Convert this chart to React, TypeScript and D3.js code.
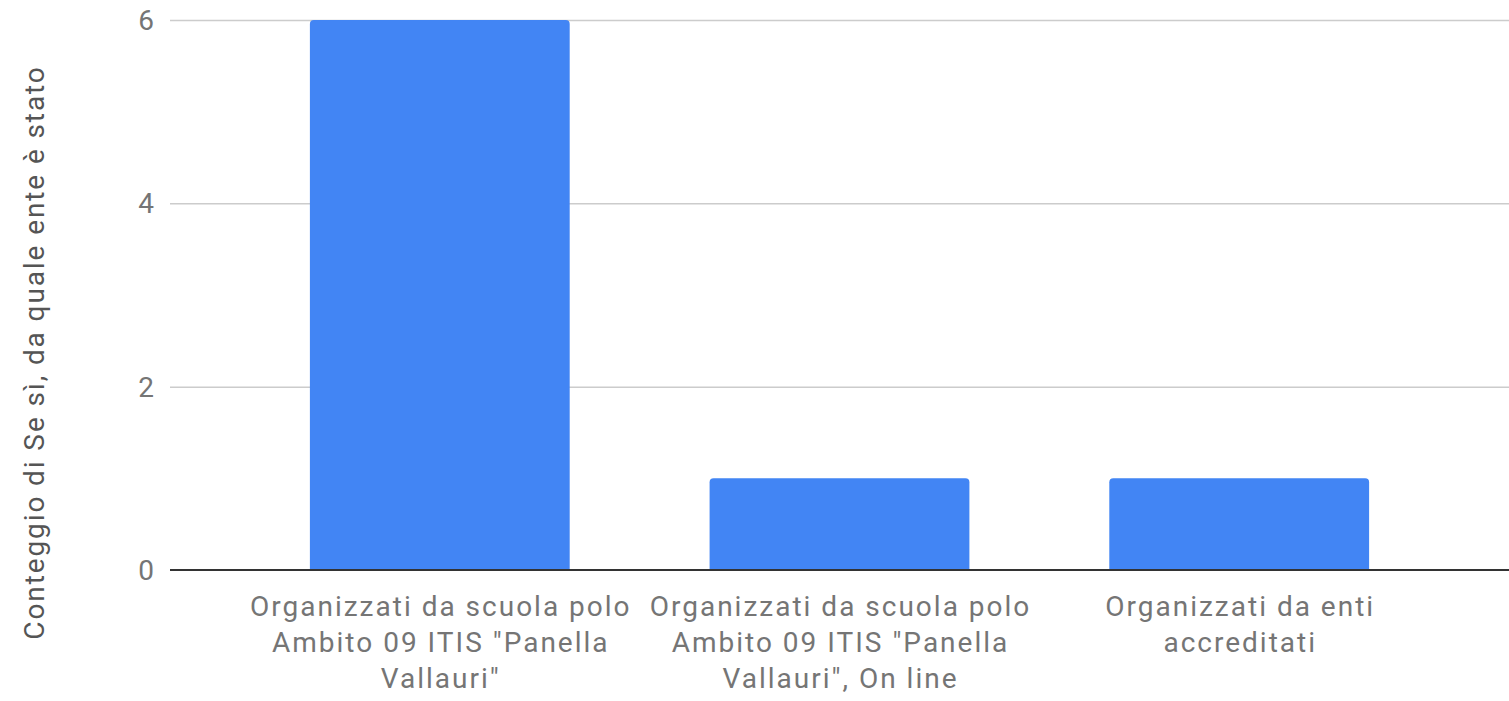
import { useEffect, useRef } from 'react';
import * as d3 from 'd3';

const categories = [
  'Organizzati da scuola polo Ambito 09 ITIS "Panella Vallauri"',
  'Organizzati da scuola polo Ambito 09 ITIS "Panella Vallauri", On line',
  'Organizzati da enti accreditati',
];
const counts = [6, 1, 1];
const yTicks = [0, 2, 4, 6];
const yTitle = 'Conteggio di Se sì, da quale ente è stato';

const W = 1509;
const H = 701;
const FONT = 'Roboto, sans-serif';

const App = () => {
  const svgRef = useRef<SVGSVGElement>(null);
  const margin = { top: 20, right: 0, bottom: 131, left: 170 };

  useEffect(() => {
    if (!svgRef.current) return;
    const svg = d3.select(svgRef.current);
    svg.selectAll('*').remove();

    const x = d3.scaleBand()
      .domain(categories)
      .range([margin.left, W - margin.right])
      .paddingInner(0.35)
      .paddingOuter(0.35);

    const y = d3.scaleLinear()
      .domain([0, 6])
      .range([H - margin.bottom, margin.top]);

    // gridlines
    svg.append('g')
      .selectAll('line')
      .data(yTicks.filter(t => t !== 0))
      .enter()
      .append('line')
      .attr('x1', margin.left)
      .attr('x2', W - margin.right)
      .attr('y1', d => y(d) + 0.5)
      .attr('y2', d => y(d) + 0.5)
      .attr('stroke', '#cccccc')
      .attr('stroke-width', 1.5);

    // y tick labels
    svg.append('g')
      .selectAll('text')
      .data(yTicks)
      .enter()
      .append('text')
      .attr('x', margin.left - 16)
      .attr('y', d => y(d))
      .attr('dy', '0.36em')
      .attr('text-anchor', 'end')
      .style('font-family', FONT)
      .style('font-size', '28px')
      .attr('fill', '#757575')
      .text(d => d);

    // bars with rounded top corners
    const r = 4;
    svg.append('g')
      .selectAll('path')
      .data(counts)
      .enter()
      .append('path')
      .attr('d', (d, i) => {
        const x0 = x(categories[i])!;
        const x1 = x0 + x.bandwidth();
        const y0 = y(0);
        const y1 = y(d);
        return `M${x0},${y0}V${y1 + r}Q${x0},${y1} ${x0 + r},${y1}H${x1 - r}Q${x1},${y1} ${x1},${y1 + r}V${y0}Z`;
      })
      .attr('fill', '#4285f4');

    // baseline
    svg.append('line')
      .attr('x1', margin.left)
      .attr('x2', W - margin.right)
      .attr('y1', y(0))
      .attr('y2', y(0))
      .attr('stroke', '#333333')
      .attr('stroke-width', 2);

    // category labels, wrapped
    const maxW = x.step();
    const lineH = 36;
    categories.forEach(cat => {
      const t = svg.append('text')
        .attr('text-anchor', 'middle')
        .style('font-family', FONT)
        .style('font-size', '28px')
        .style('letter-spacing', '2px')
        .attr('fill', '#757575');
      const cx = x(cat)! + x.bandwidth() / 2 + 1;
      const words = cat.split(' ');
      const lines: string[] = [];
      let cur: string[] = [];
      const probe = t.append('tspan');
      words.forEach(w => {
        const test = [...cur, w].join(' ');
        probe.text(test);
        if ((probe.node() as SVGTSpanElement).getComputedTextLength() > maxW && cur.length) {
          lines.push(cur.join(' '));
          cur = [w];
        } else {
          cur.push(w);
        }
      });
      lines.push(cur.join(' '));
      probe.remove();
      lines.forEach((ln, k) => {
        t.append('tspan')
          .attr('x', cx)
          .attr('y', 616 + k * lineH)
          .text(ln);
      });
    });

    // y axis title
    svg.append('text')
      .attr('transform', `translate(44,${(65 + 640) / 2}) rotate(-90)`)
      .attr('text-anchor', 'middle')
      .style('font-family', FONT)
      .style('font-size', '28px')
      .style('letter-spacing', '1.9px')
      .attr('fill', '#555555')
      .text(yTitle);
  }, []);

  return (
    <svg
      ref={svgRef}
      width={W}
      height={H}
      style={{ position: 'absolute', left: 0, top: 0, background: '#fff' }}
    />
  );
};

export default App;
